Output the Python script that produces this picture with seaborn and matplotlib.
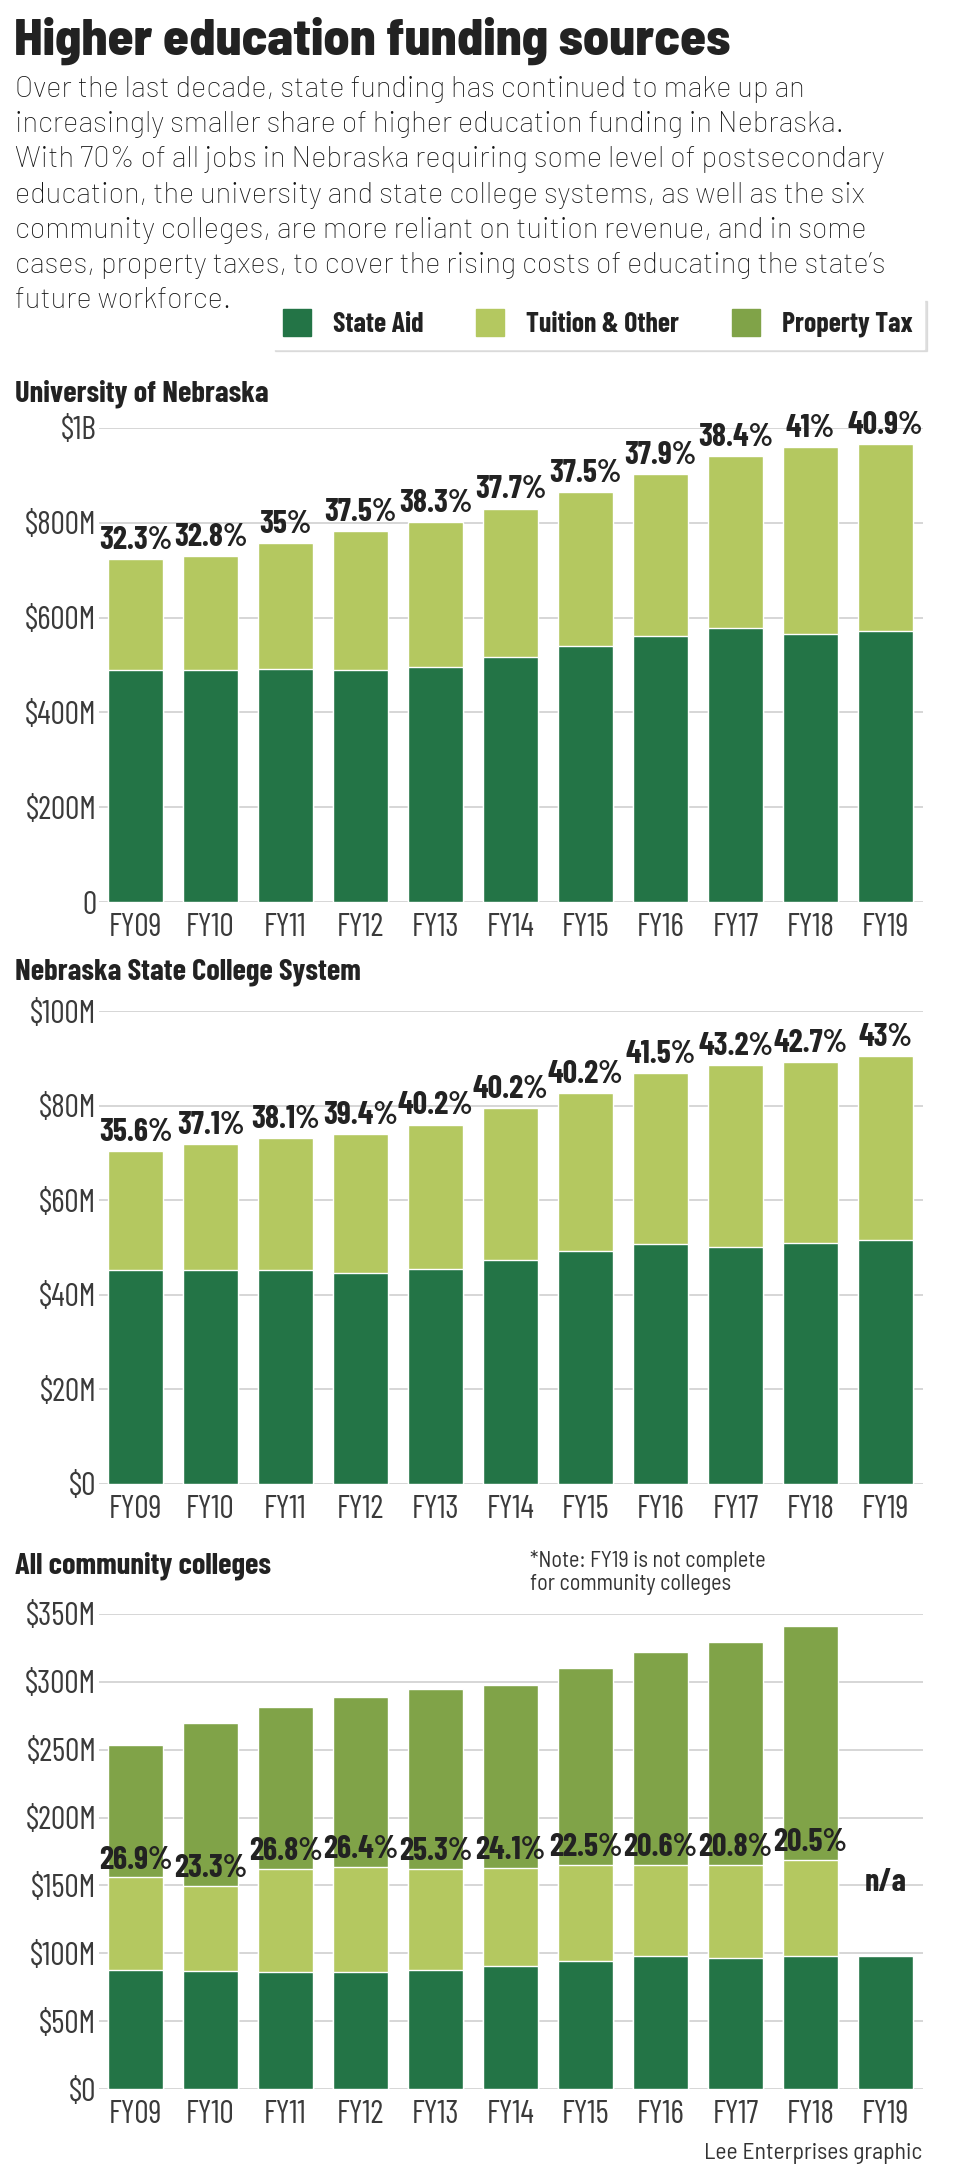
import seaborn as sns
import matplotlib.pyplot as plt
import numpy as np
from matplotlib import font_manager
from matplotlib.patches import Patch

years = ["FY09", "FY10", "FY11", "FY12", "FY13", "FY14", "FY15", "FY16", "FY17", "FY18", "FY19"]

# University of Nebraska, $ millions
nu_state_aid = [489, 489, 492, 489, 495, 517, 540, 561, 579, 566, 571]
nu_tuition = [234, 240, 265, 293, 307, 313, 324, 342, 362, 394, 395]
nu_labels = ["32.3%", "32.8%", "35%", "37.5%", "38.3%", "37.7%", "37.5%", "37.9%", "38.4%", "41%", "40.9%"]

# Nebraska State College System, $ millions
sc_state_aid = [45.3, 45.2, 45.3, 44.7, 45.4, 47.4, 49.3, 50.8, 50.2, 51.0, 51.5]
sc_tuition = [25.1, 26.7, 27.9, 29.2, 30.6, 32.0, 33.3, 36.0, 38.3, 38.2, 39.0]
sc_labels = ["35.6%", "37.1%", "38.1%", "39.4%", "40.2%", "40.2%", "40.2%", "41.5%", "43.2%", "42.7%", "43%"]

# all community colleges, $ millions (FY19 not complete)
cc_state_aid = [87.4, 86.8, 86.5, 86.5, 87.7, 90.7, 94.6, 98.2, 96.7, 97.9, 97.9]
cc_tuition = [68.5, 63.1, 75.7, 76.9, 74.5, 72.1, 70.3, 66.7, 68.5, 70.9, np.nan]
cc_property = [97.6, 119.8, 119.6, 125.6, 132.5, 135.2, 145.1, 156.8, 164.0, 172.4, np.nan]
cc_labels = ["26.9%", "23.3%", "26.8%", "26.4%", "25.3%", "24.1%", "22.5%", "20.6%", "20.8%", "20.5%", "n/a"]

body_lines = [
    "Over the last decade, state funding has continued to make up an",
    "increasingly smaller share of higher education funding in Nebraska.",
    "With 70% of all jobs in Nebraska requiring some level of postsecondary",
    "education, the university and state college systems, as well as the six",
    "community colleges, are more reliant on tuition revenue, and in some",
    "cases, property taxes, to cover the rising costs of educating the state\u2019s",
    "future workforce.",
]

STATE = "#237446"
TUITION = "#b4c860"
PROPERTY = "#80a348"
INK = "#222222"
GREY = "#3a3a3a"

installed = {f.name for f in font_manager.fontManager.ttflist}


def pick(*cands):
    for c in cands:
        if c in installed:
            return c
    return "DejaVu Sans"


COND = pick("Barlow Condensed", "Roboto Condensed", "Fira Sans Extra Condensed", "Liberation Sans Narrow")
SEMI = pick("Barlow Semi Condensed", "Fira Sans Condensed", "Roboto Condensed", "Roboto")
WIDE = pick("Barlow", "Roboto", "Liberation Sans")

sns.set_theme(style="white")
plt.rcParams["font.family"] = [COND, "DejaVu Sans"]

W, H = 956, 2168
fig = plt.figure(figsize=(W / 100, H / 100), dpi=100)


def fx(px):
    return px / W


def fy(px):
    return 1 - px / H


def panel(top, bottom, layers, colors, ymax, step, tick_fmt):
    ax = fig.add_axes([fx(99), fy(bottom), fx(923) - fx(99), (bottom - top) / H])
    cums = np.cumsum(np.array(layers, dtype=float), axis=0)
    # tallest stack first so the lower layers sit on top of it
    for cum, color in reversed(list(zip(cums, colors))):
        sns.barplot(x=years, y=cum, order=years, color=color, saturation=1,
                    width=0.733, errorbar=None, ax=ax)
    ax.set_xlim(-0.487, 10.5)
    ax.set_ylim(0, ymax)
    ticks = np.arange(0, ymax + step / 2, step)
    ax.set_yticks(ticks)
    ax.set_yticklabels([tick_fmt(t) for t in ticks])
    ax.set_xlabel("")
    ax.set_ylabel("")
    ax.yaxis.grid(True, color="#d6d6d6", lw=1.4)
    ax.set_axisbelow(True)
    sns.despine(ax=ax, left=True, bottom=True)
    ax.tick_params(axis="y", length=0, pad=2, labelsize=23, labelcolor=GREY)
    ax.tick_params(axis="x", length=0, pad=8, labelsize=23, labelcolor=GREY)
    for lab in ax.get_yticklabels():
        lab.set_verticalalignment("center_baseline")
    return ax, cums


def label_tops(ax, tops, labels, pad=3):
    for i, (v, lab) in enumerate(zip(tops, labels)):
        ax.annotate(lab, (i, v), xytext=(0, pad), textcoords="offset points",
                    ha="center", va="bottom", fontsize=23, fontweight="bold",
                    color=INK, annotation_clip=False)


# header
fig.text(fx(14), fy(55), "Higher education funding sources", fontsize=37.5,
         fontweight="heavy", family=[SEMI, "DejaVu Sans"], color=INK, va="baseline")
for k, line in enumerate(body_lines):
    fig.text(fx(15), fy(97 + 35.2 * k), line, fontsize=21, fontweight="light",
             family=[WIDE, "DejaVu Sans"], color="#141414", va="baseline")

handles = [Patch(color=STATE), Patch(color=TUITION), Patch(color=PROPERTY)]
fig.legend(handles, ["State Aid", "Tuition & Other", "Property Tax"],
           loc="upper right", bbox_to_anchor=(fx(924), fy(298)), ncol=3,
           frameon=True, fancybox=False, edgecolor="white", framealpha=1,
           shadow={"color": "#cccccc", "alpha": 0.6}, borderaxespad=0,
           prop={"family": COND, "weight": "bold", "size": 20},
           handlelength=1.0, handleheight=1.1, handletextpad=0.8,
           columnspacing=1.9, borderpad=0.4, labelcolor=INK)

# University of Nebraska
fig.text(fx(15), fy(401), "University of Nebraska", fontsize=22,
         fontweight="bold", color=INK, va="baseline")
ax1, c1 = panel(428, 902, [nu_state_aid, nu_tuition], [STATE, TUITION], 1000, 200,
                lambda t: "0" if t == 0 else ("$1B" if t == 1000 else f"${t:.0f}M"))
label_tops(ax1, c1[-1], nu_labels)

# Nebraska State College System
fig.text(fx(15), fy(980), "Nebraska State College System", fontsize=22,
         fontweight="bold", color=INK, va="baseline")
ax2, c2 = panel(1011, 1484, [sc_state_aid, sc_tuition], [STATE, TUITION], 100, 20,
                lambda t: f"${t:.0f}" if t == 0 else f"${t:.0f}M")
label_tops(ax2, c2[-1], sc_labels)

# All community colleges
fig.text(fx(15), fy(1573), "All community colleges", fontsize=22,
         fontweight="bold", color=INK, va="baseline")
fig.text(fx(530), fy(1567), "*Note: FY19 is not complete", fontsize=16,
         family=[SEMI, "DejaVu Sans"], color="#333333", va="baseline")
fig.text(fx(530), fy(1590), "for community colleges", fontsize=16,
         family=[SEMI, "DejaVu Sans"], color="#333333", va="baseline")
ax3, c3 = panel(1614, 2089, [cc_state_aid, cc_tuition, cc_property],
                [STATE, TUITION, PROPERTY], 350, 50,
                lambda t: f"${t:.0f}" if t == 0 else f"${t:.0f}M")
for i, lab in enumerate(cc_labels):
    if np.isnan(c3[1][i]):
        ax3.text(i, 152, lab, ha="center", va="center", fontsize=23,
                 fontweight="bold", color=INK)
    else:
        ax3.annotate(lab, (i, c3[1][i]), xytext=(0, 2), textcoords="offset points",
                     ha="center", va="bottom", fontsize=23, fontweight="bold",
                     color=INK, annotation_clip=False)

fig.text(fx(922), fy(2159), "Lee Enterprises graphic", fontsize=17,
         family=[SEMI, "DejaVu Sans"], color="#333333", ha="right", va="baseline")

fig.savefig("out.png", dpi=100)
